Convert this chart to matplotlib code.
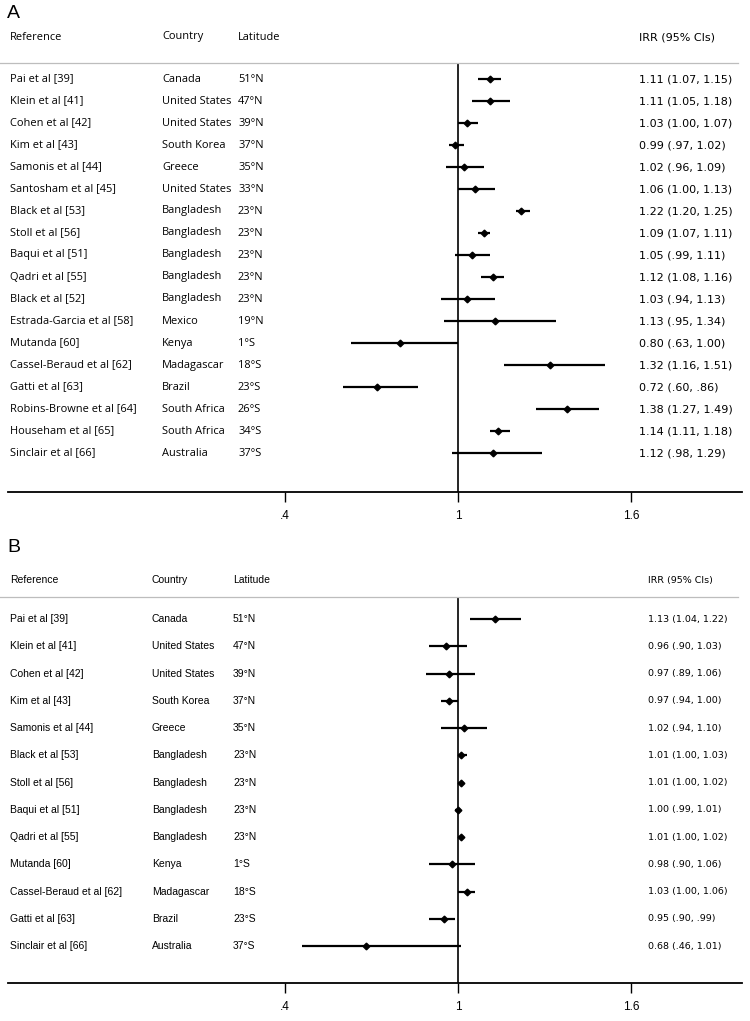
import matplotlib
matplotlib.use("Agg")
import matplotlib.pyplot as plt
from matplotlib.lines import Line2D

# ---- panel A data
refs_a = ["Pai et al [39]", "Klein et al [41]", "Cohen et al [42]", "Kim et al [43]",
          "Samonis et al [44]", "Santosham et al [45]", "Black et al [53]", "Stoll et al [56]",
          "Baqui et al [51]", "Qadri et al [55]", "Black et al [52]", "Estrada-Garcia et al [58]",
          "Mutanda [60]", "Cassel-Beraud et al [62]", "Gatti et al [63]",
          "Robins-Browne et al [64]", "Househam et al [65]", "Sinclair et al [66]"]
country_a = ["Canada", "United States", "United States", "South Korea", "Greece",
             "United States", "Bangladesh", "Bangladesh", "Bangladesh", "Bangladesh",
             "Bangladesh", "Mexico", "Kenya", "Madagascar", "Brazil", "South Africa",
             "South Africa", "Australia"]
lat_a = ["51°N", "47°N", "39°N", "37°N", "35°N", "33°N", "23°N", "23°N", "23°N", "23°N",
         "23°N", "19°N", "1°S", "18°S", "23°S", "26°S", "34°S", "37°S"]
irr_a = [1.11, 1.11, 1.03, 0.99, 1.02, 1.06, 1.22, 1.09, 1.05, 1.12, 1.03, 1.13,
         0.80, 1.32, 0.72, 1.38, 1.14, 1.12]
lo_a = [1.07, 1.05, 1.00, 0.97, 0.96, 1.00, 1.20, 1.07, 0.99, 1.08, 0.94, 0.95,
        0.63, 1.16, 0.60, 1.27, 1.11, 0.98]
hi_a = [1.15, 1.18, 1.07, 1.02, 1.09, 1.13, 1.25, 1.11, 1.11, 1.16, 1.13, 1.34,
        1.00, 1.51, 0.86, 1.49, 1.18, 1.29]
lab_a = ["1.11 (1.07, 1.15)", "1.11 (1.05, 1.18)", "1.03 (1.00, 1.07)", "0.99 (.97, 1.02)",
         "1.02 (.96, 1.09)", "1.06 (1.00, 1.13)", "1.22 (1.20, 1.25)", "1.09 (1.07, 1.11)",
         "1.05 (.99, 1.11)", "1.12 (1.08, 1.16)", "1.03 (.94, 1.13)", "1.13 (.95, 1.34)",
         "0.80 (.63, 1.00)", "1.32 (1.16, 1.51)", "0.72 (.60, .86)", "1.38 (1.27, 1.49)",
         "1.14 (1.11, 1.18)", "1.12 (.98, 1.29)"]

# ---- panel B data
refs_b = ["Pai et al [39]", "Klein et al [41]", "Cohen et al [42]", "Kim et al [43]",
          "Samonis et al [44]", "Black et al [53]", "Stoll et al [56]", "Baqui et al [51]",
          "Qadri et al [55]", "Mutanda [60]", "Cassel-Beraud et al [62]", "Gatti et al [63]",
          "Sinclair et al [66]"]
country_b = ["Canada", "United States", "United States", "South Korea", "Greece",
             "Bangladesh", "Bangladesh", "Bangladesh", "Bangladesh", "Kenya",
             "Madagascar", "Brazil", "Australia"]
lat_b = ["51°N", "47°N", "39°N", "37°N", "35°N", "23°N", "23°N", "23°N", "23°N",
         "1°S", "18°S", "23°S", "37°S"]
irr_b = [1.13, 0.96, 0.97, 0.97, 1.02, 1.01, 1.01, 1.00, 1.01, 0.98, 1.03, 0.95, 0.68]
lo_b = [1.04, 0.90, 0.89, 0.94, 0.94, 1.00, 1.00, 0.99, 1.00, 0.90, 1.00, 0.90, 0.46]
hi_b = [1.22, 1.03, 1.06, 1.00, 1.10, 1.03, 1.02, 1.01, 1.02, 1.06, 1.06, 0.99, 1.01]
lab_b = ["1.13 (1.04, 1.22)", "0.96 (.90, 1.03)", "0.97 (.89, 1.06)", "0.97 (.94, 1.00)",
         "1.02 (.94, 1.10)", "1.01 (1.00, 1.03)", "1.01 (1.00, 1.02)", "1.00 (.99, 1.01)",
         "1.01 (1.00, 1.02)", "0.98 (.90, 1.06)", "1.03 (1.00, 1.06)", "0.95 (.90, .99)",
         "0.68 (.46, 1.01)"]

xticks = [0.4, 1.0, 1.6]
xticklabels = [".4", "1", "1.6"]

W, H = 750, 1021
fig = plt.figure(figsize=(W / 100, H / 100), dpi=100)

NARROW = ["Liberation Sans Narrow", "Liberation Sans", "DejaVu Sans"]


def fx(px):
    return px / W


def fy(py):
    return 1 - py / H


def data_x(px):
    # 1.0 sits at px 458, 288 px per unit
    return 1 + (px - 458) / 288


def panel(letter, top, bottom, first_row, step, hdr_y, let_y, cols, irr_x,
          refs, country, lat, irr, lo, hi, labs, rowfont, irrfont, fs, irrfs):
    left_px, right_px = 8, 742
    ax = fig.add_axes([fx(left_px), fy(bottom), fx(right_px - left_px), (bottom - top) / H])
    ax.set_xlim(data_x(left_px), data_x(right_px))
    n = len(refs)
    ax.set_ylim((bottom - first_row) / step, (top - first_row) / step)
    for s in ["top", "right", "left"]:
        ax.spines[s].set_visible(False)
    ax.spines["bottom"].set_linewidth(1.3)
    ax.set_yticks([])
    ax.set_xticks(xticks)
    ax.set_xticklabels(xticklabels, family=NARROW, fontsize=8.5)
    ax.tick_params(axis="x", length=7, width=1, pad=6)
    ax.axvline(1, color="black", lw=1.2)
    ys = list(range(n))
    for i in ys:
        ax.plot([lo[i], hi[i]], [i, i], color="black", lw=1.6, solid_capstyle="butt")
    ax.plot(irr, ys, "D", color="black", ms=3.4, ls="none")
    for i in ys:
        ax.text(data_x(cols[0]), i, refs[i], family=rowfont, fontsize=fs, va="center")
        ax.text(data_x(cols[1]), i, country[i], family=rowfont, fontsize=fs, va="center")
        ax.text(data_x(cols[2]), i, lat[i], family=rowfont, fontsize=fs, va="center")
        ax.text(data_x(irr_x), i, labs[i], family=irrfont, fontsize=irrfs, va="center")
    # header
    fig.add_artist(Line2D([0, fx(right_px - 4)], [fy(top), fy(top)], color="#bdbdbd", lw=0.9))
    for name, px in zip(["Reference", "Country", "Latitude"], cols):
        fig.text(fx(px), fy(hdr_y), name, family=rowfont, fontsize=fs, va="center")
    fig.text(fx(irr_x), fy(hdr_y), "IRR (95% CIs)", family=irrfont, fontsize=irrfs, va="center")
    fig.text(fx(7), fy(let_y), letter, fontsize=14, va="center",
             family=["Liberation Sans", "DejaVu Sans"])
    return ax


panel("A", 63, 492, 79, 22.0, 37, 14, [10, 162, 238], 639,
      refs_a, country_a, lat_a, irr_a, lo_a, hi_a, lab_a,
      ["Open Sans", "DejaVu Sans"], ["DejaVu Sans"], 7.9, 8.0)
panel("B", 597, 983, 619, 27.25, 580, 548, [10, 152, 233], 648,
      refs_b, country_b, lat_b, irr_b, lo_b, hi_b, lab_b,
      NARROW, ["DejaVu Sans"], 7.5, 6.8)

fig.savefig("out.png", dpi=100, facecolor="white")
